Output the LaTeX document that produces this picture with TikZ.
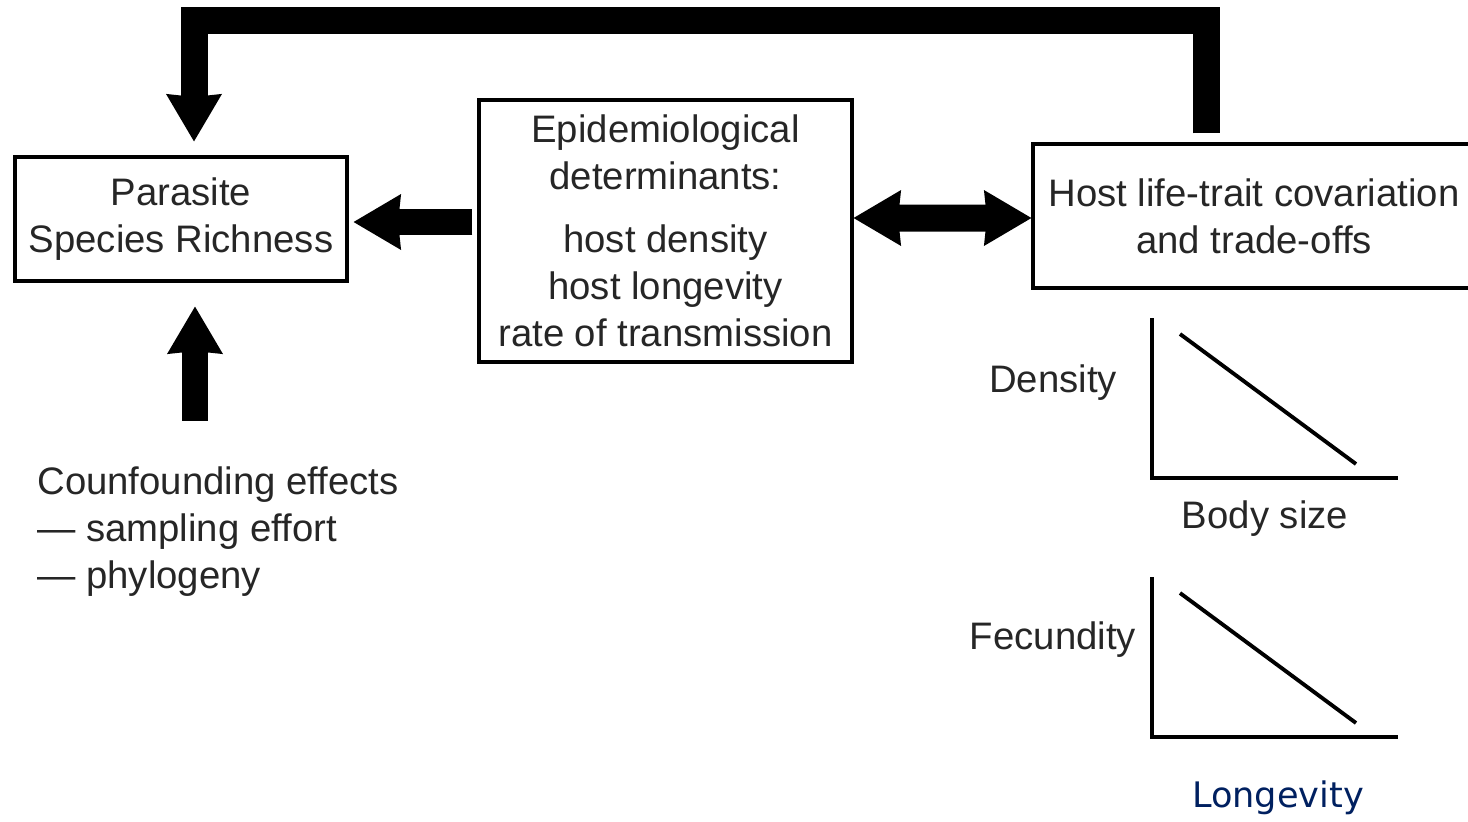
\documentclass[tikz,border=0pt]{standalone}
\usepackage{fontspec}
\setmainfont{Liberation Sans}
\newfontfamily\longfont{DejaVu Sans}
\usetikzlibrary{arrows.meta, positioning, calc}
\definecolor{longblue}{RGB}{0,32,96}
\tikzset{
  bigtip/.tip={Stealth[length=0.95cm, width=1.12cm, inset=0.06cm, line width=0pt]},
  blockarrow/.style={line width=0.52cm, -bigtip},
  box/.style={draw, line width=1.8pt, align=center, inner sep=0pt},
  lbl/.style={font=\fontsize{21.8}{26.7}\selectfont, text=black!85},
  axis/.style={line width=2.6pt},
}

\begin{document}
\begin{tikzpicture}
\useasboundingbox (0,0) rectangle (29.36,-16.42);

% Boxes
\node[box, lbl, minimum width=6.64cm, minimum height=2.48cm] (parasite) at (3.62,-4.38) {Parasite\\Species Richness};
\node[box, lbl, minimum width=7.46cm, minimum height=5.24cm] (epi) at (13.31,-4.62)
    {Epidemiological\\determinants:\\[0.32cm]host density\\host longevity\\rate of transmission};
\node[box, lbl, minimum width=8.84cm, minimum height=2.88cm] (host) at (25.08,-4.32) {Host life-trait covariation\\and trade-offs};

% Confounding effects
\node[lbl, align=left, anchor=west, inner sep=0pt] (conf) at (0.74,-10.64)
    {Counfounding effects\\— sampling effort\\— phylogeny};

% Arrows
\draw[blockarrow] ([shift={(-0.1,0.18)}]epi.west) -- ([shift={(0.1,-0.06)}]parasite.east);
\draw[line width=0.54cm, bigtip-bigtip] ([yshift=0.26cm]epi.east) -- ([yshift=-0.04cm]host.west);
\coordinate (upx) at ([xshift=0.28cm]parasite.south);
\draw[blockarrow] ($(conf.north -| upx)+(0,0.92)$) -- ([yshift=-0.48cm]upx);

% Feedback arrow
\draw[blockarrow, line width=0.54cm] ([shift={(-0.96,0.18)}]host.north) -- ++(0,2.26)
    -| ([shift={(0.26,0.28)}]parasite.north);

% Trade-off graphs
\foreach \dy in {0,-5.18} {
  \draw[axis] (23.04,-6.36+\dy) -- (23.04,-9.56+\dy) -- (27.96,-9.56+\dy);
  \draw[line width=2.2pt] (23.6,-6.68+\dy) -- (27.12,-9.28+\dy);
}
\node[lbl] (dens) at (21.06,-7.66) {Density};
\node[lbl] (bsize) at (25.3,-10.38) {Body size};
\node[lbl] (fec) at (21.06,-12.8) {Fecundity};
\node[font=\longfont\fontsize{20}{24}\selectfont, text=longblue] (longv) at (25.56,-15.96) {Longevity};
\end{tikzpicture}
\end{document}
